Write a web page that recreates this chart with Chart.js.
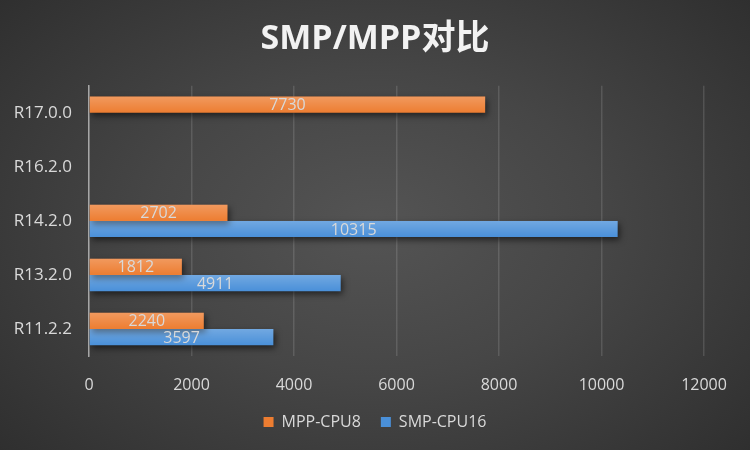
<!DOCTYPE html>
<html>
<head>
<meta charset="utf-8">
<script src="https://cdn.jsdelivr.net/npm/chart.js@4"></script>
<style>
  html, body { margin: 0; padding: 0; }
  #wrap {
    width: 750px; height: 450px;
    background: radial-gradient(ellipse 75% 85% at 50% 50%, #545454 0%, #464646 40%, #2a2a2a 100%);
  }
</style>
</head>
<body>
<div id="wrap"><canvas id="Chart" width="750" height="450"></canvas></div>
<script>
"use strict";

var categories = ['R17.0.0', 'R16.2.0', 'R14.2.0', 'R13.2.0', 'R11.2.2'];
var mppValues = [7730, null, 2702, 1812, 2240];
var smpValues = [null, null, 10315, 4911, 3597];
var seriesNames = ['MPP-CPU8', 'SMP-CPU16'];
var xTicks = [0, 2000, 4000, 6000, 8000, 10000, 12000];

var fontFamily = '"Open Sans", "Noto Sans CJK SC", sans-serif';
var textColor = '#d9d9d9';

// shadow + gloss + value labels on bars
var barDeco = {
  id: 'barDeco',
  beforeDatasetsDraw: function (chart) {
    var ctx = chart.ctx;
    ctx.save();
    ctx.shadowColor = 'rgba(0,0,0,0.55)';
    ctx.shadowBlur = 6;
    ctx.shadowOffsetX = 2;
    ctx.shadowOffsetY = 3;
  },
  afterDatasetsDraw: function (chart) {
    var ctx = chart.ctx;
    ctx.restore();
    chart.data.datasets.forEach(function (ds, i) {
      var meta = chart.getDatasetMeta(i);
      meta.data.forEach(function (bar, j) {
        var v = ds.data[j];
        if (v == null) return;
        var top = bar.y - bar.height / 2;
        var left = Math.min(bar.x, bar.base);
        var g = ctx.createLinearGradient(0, top, 0, top + bar.height);
        g.addColorStop(0, 'rgba(255,255,255,0.22)');
        g.addColorStop(1, 'rgba(255,255,255,0)');
        ctx.save();
        ctx.fillStyle = g;
        ctx.fillRect(left, top, Math.abs(bar.x - bar.base), bar.height);
        ctx.fillStyle = textColor;
        ctx.font = '16px ' + fontFamily;
        ctx.textAlign = 'center';
        ctx.textBaseline = 'middle';
        ctx.fillText(String(v), (bar.x + bar.base) / 2, bar.y + 1);
        ctx.restore();
      });
    });
  }
};

var ctx = document.getElementById('Chart').getContext('2d');
var chart = new Chart(ctx, {
  type: 'bar',
  data: {
    labels: categories,
    datasets: [{
      label: seriesNames[0],
      data: mppValues,
      backgroundColor: '#ed7d31'
    }, {
      label: seriesNames[1],
      data: smpValues,
      backgroundColor: '#4a90d9'
    }]
  },
  options: {
    indexAxis: 'y',
    responsive: false,
    animation: false,
    categoryPercentage: 0.6,
    barPercentage: 1,
    layout: { padding: { left: 0, right: 0, top: 4, bottom: 10 } },
    plugins: {
      title: {
        display: true,
        text: 'SMP/MPP对比',
        color: '#f2f2f2',
        font: { family: fontFamily, size: 34, weight: 'bold' },
        padding: { top: 15, bottom: 26 }
      },
      legend: {
        position: 'bottom',
        labels: {
          color: textColor,
          font: { family: fontFamily, size: 16 },
          boxWidth: 10,
          boxHeight: 10,
          padding: 20
        }
      },
      tooltip: { enabled: false }
    },
    scales: {
      x: {
        min: 0,
        max: 12000,
        afterBuildTicks: function (scale) {
          scale.ticks = xTicks.map(function (v) { return { value: v }; });
        },
        grid: { color: 'rgba(255,255,255,0.13)', lineWidth: 1.5, drawTicks: false },
        border: { display: false },
        ticks: {
          color: textColor,
          font: { family: fontFamily, size: 16 },
          padding: 20,
          callback: function (v) { return String(v); }
        },
        afterFit: function (scale) { scale.height = 38; }
      },
      y: {
        grid: { display: false },
        border: { display: true, color: '#a6a6a6', width: 1.5 },
        ticks: { color: textColor, font: { family: fontFamily, size: 17 }, padding: 9 },
        afterFit: function (scale) { scale.width = 89; }
      },
      // empty right-hand spacer so the plot ends at 12000 while title/legend stay centred
      yRight: {
        type: 'category',
        position: 'right',
        grid: { display: false },
        border: { display: false },
        ticks: { display: false },
        afterFit: function (scale) { scale.width = 46; }
      }
    }
  },
  plugins: [barDeco]
});
</script>
</body>
</html>
